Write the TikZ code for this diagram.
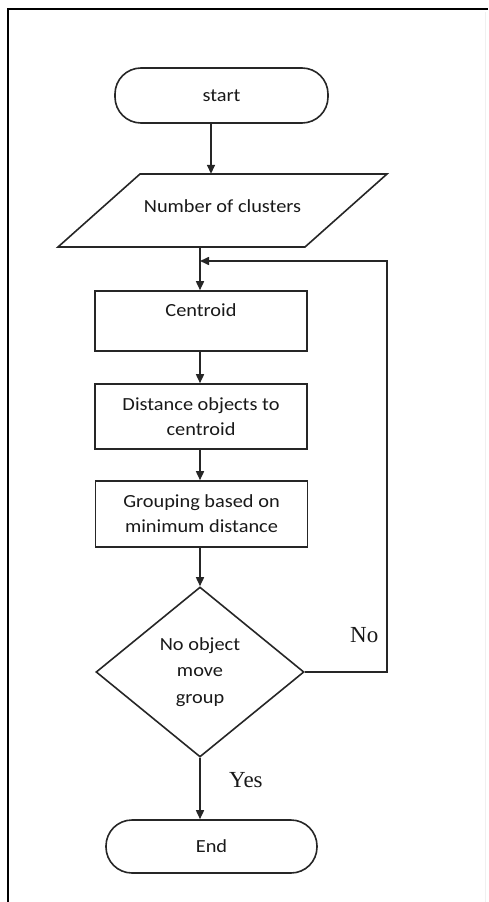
\documentclass[tikz,border=0pt]{standalone}
\usepackage{fontspec}
\setmainfont{Carlito}[FakeStretch=1.1]
\newfontfamily\labelfont{Liberation Serif}
\usetikzlibrary{arrows.meta,shapes.geometric}
\begin{document}
\begin{tikzpicture}[x=1pt,y=-1pt,
  every node/.style={text=black!90},
  line/.style={draw=black!85, line width=1.6pt},
  body/.style={font=\fontsize{18.5}{25}\selectfont},
  proc/.style={line, body, rectangle, minimum width=212pt, inner sep=0pt, align=center},
  term/.style={line, body, rectangle, rounded corners=26pt, inner sep=0pt},
  decide/.style={line, font=\fontsize{18.5}{26.5}\selectfont, diamond, inner sep=0pt, align=center},
  flow/.style={line, -{Triangle[length=9pt,width=8pt]}},
  yn/.style={font=\labelfont\fontsize{23}{26}\selectfont, inner sep=0pt, anchor=base west}
]
\useasboundingbox (0,0) rectangle (488,902);
% frame
\draw[black, line width=2pt] (8,902) -- (8,8.5) -- (488,8.5);
\draw[gray!12, line width=0.8pt] (485,12) -- (485,902);

% nodes
\node[term, minimum width=213pt, minimum height=55pt] (start) at (221.5,95.5) {start};

\coordinate (p1) at (58,247);
\coordinate (p2) at (140,174);
\coordinate (p3) at (387,174);
\coordinate (p4) at (305,247);
\draw[line] (p1) -- (p2) -- (p3) -- (p4) -- cycle;
\node[body, inner sep=0pt, text height=13pt, text depth=8.6pt, minimum height=73pt] (num) at (222.5,210.5) {Number of clusters};

\node[proc, minimum height=60pt, text height=13pt, text depth=23pt] (cen) at (201,321) {Centroid};
\node[proc, minimum height=65pt] (dist) at (201,416.5) {Distance objects to\\centroid};
\node[proc, minimum height=66pt] (grp) at (201.5,514) {Grouping based on\\minimum distance};
\node[decide, minimum width=208pt, minimum height=170pt] (dec) at (200,672) {No object\\move\\group};
\node[term, minimum width=211pt, minimum height=53pt] (end) at (211.5,846.5) {End};

% connectors
\coordinate (xa) at (211,0);
\coordinate (xb) at (200,0);
\coordinate (fb) at (387,261);
\draw[flow] (start.south -| xa) -- (num.north -| xa);
\draw[flow] (num.south -| xb) -- (cen.north -| xb);
\draw[flow] (cen.south -| xb) -- (dist.north -| xb);
\draw[flow] (dist.south -| xb) -- (grp.north -| xb);
\draw[flow] (grp.south -| xb) -- (dec.north);
\draw[flow] (dec.south) -- (end.north -| xb);
\draw[flow] (dec.east) -- (dec.east -| fb) -- (fb) -- (fb -| xb);

% labels
\node[yn] (no) at (350,642) {No};
\node[yn] (yes) at (229,787) {Yes};
\end{tikzpicture}
\end{document}
